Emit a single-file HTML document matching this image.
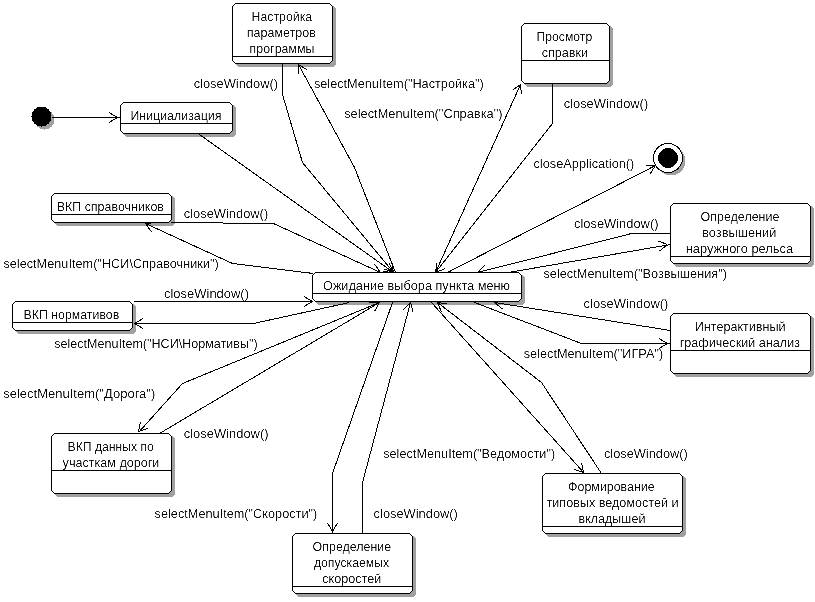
<!DOCTYPE html>
<html><head><meta charset="utf-8"><style>
html,body{margin:0;padding:0;background:#fff;width:815px;height:602px;overflow:hidden}
svg{display:block;will-change:transform}
text{filter:url(#thr);font-family:"Liberation Sans",sans-serif;font-size:12px;fill:#000}
.c{shape-rendering:crispEdges}
</style></head><body>
<svg width="815" height="602" viewBox="0 0 815 602">
<defs><filter id="thr" x="-5%" y="-25%" width="110%" height="150%" color-interpolation-filters="sRGB"><feComponentTransfer><feFuncA type="table" tableValues="0 0 0.8 1"/></feComponentTransfer></filter></defs>
<rect width="815" height="602" fill="#fff"/>
<circle cx="44.5" cy="119.5" r="10" fill="#a0a0a0" class="c"/>
<circle cx="671" cy="161" r="14.5" fill="#a0a0a0" class="c"/>
<path d="M238,6 H333 L336,9 V64 L333,67 H238 L235,64 V9 Z" fill="#a0a0a0" class="c"/>
<path d="M527,26 H610 L613,29 V84 L610,87 H527 L524,84 V29 Z" fill="#a0a0a0" class="c"/>
<path d="M126,105 H233 L236,108 V134 L233,137 H126 L123,134 V108 Z" fill="#a0a0a0" class="c"/>
<path d="M57,196 H172 L175,199 V223 L172,226 H57 L54,223 V199 Z" fill="#a0a0a0" class="c"/>
<path d="M676,206 H811 L814,209 V264 L811,267 H676 L673,264 V209 Z" fill="#a0a0a0" class="c"/>
<path d="M318,275 H522 L525,278 V302 L522,305 H318 L315,302 V278 Z" fill="#a0a0a0" class="c"/>
<path d="M18,304 H133 L136,307 V331 L133,334 H18 L15,331 V307 Z" fill="#a0a0a0" class="c"/>
<path d="M676,316 H811 L814,319 V374 L811,377 H676 L673,374 V319 Z" fill="#a0a0a0" class="c"/>
<path d="M57,436 H172 L175,439 V494 L172,497 H57 L54,494 V439 Z" fill="#a0a0a0" class="c"/>
<path d="M548,476 H683 L686,479 V534 L683,537 H548 L545,534 V479 Z" fill="#a0a0a0" class="c"/>
<path d="M298,536 H413 L416,539 V594 L413,597 H298 L295,594 V539 Z" fill="#a0a0a0" class="c"/>
<polyline points="51.5,117.5 120.5,117.5" fill="none" stroke="#000" class="c"/>
<line x1="108.8" y1="112.5" x2="117.5" y2="117.5" stroke="#000" class="c"/>
<line x1="108.8" y1="122.5" x2="117.5" y2="117.5" stroke="#000" class="c"/>
<polyline points="199.5,134.5 393.5,272.5" fill="none" stroke="#000" class="c"/>
<line x1="389.3" y1="263.4" x2="393.5" y2="272.5" stroke="#000" class="c"/>
<line x1="383.5" y1="271.6" x2="393.5" y2="272.5" stroke="#000" class="c"/>
<polyline points="282.5,63.5 282.5,94.5 302.5,162.5 393.5,272.5" fill="none" stroke="#000" class="c"/>
<line x1="391.8" y1="262.6" x2="393.5" y2="272.5" stroke="#000" class="c"/>
<line x1="384.1" y1="269.0" x2="393.5" y2="272.5" stroke="#000" class="c"/>
<polyline points="395.5,272.5 354.5,167.5 298.5,64.5" fill="none" stroke="#000" class="c"/>
<line x1="298.2" y1="74.5" x2="298.5" y2="64.5" stroke="#000" class="c"/>
<line x1="307.0" y1="69.7" x2="298.5" y2="64.5" stroke="#000" class="c"/>
<polyline points="435.5,272.5 520.5,84.5" fill="none" stroke="#000" class="c"/>
<line x1="512.4" y1="90.3" x2="520.5" y2="84.5" stroke="#000" class="c"/>
<line x1="521.5" y1="94.5" x2="520.5" y2="84.5" stroke="#000" class="c"/>
<polyline points="552.5,83.5 552.5,123.5 435.5,272.5" fill="none" stroke="#000" class="c"/>
<line x1="444.8" y1="268.8" x2="435.5" y2="272.5" stroke="#000" class="c"/>
<line x1="436.9" y1="262.6" x2="435.5" y2="272.5" stroke="#000" class="c"/>
<polyline points="447.5,272.5 655.5,165.5" fill="none" stroke="#000" class="c"/>
<line x1="645.5" y1="165.0" x2="655.5" y2="165.5" stroke="#000" class="c"/>
<line x1="650.1" y1="173.9" x2="655.5" y2="165.5" stroke="#000" class="c"/>
<polyline points="670.5,233.5 631.5,233.5 477.5,272.5" fill="none" stroke="#000" class="c"/>
<line x1="487.1" y1="275.2" x2="477.5" y2="272.5" stroke="#000" class="c"/>
<line x1="484.7" y1="265.5" x2="477.5" y2="272.5" stroke="#000" class="c"/>
<polyline points="508.5,272.5 670.5,244.5" fill="none" stroke="#000" class="c"/>
<line x1="658.1" y1="241.0" x2="667.5" y2="244.5" stroke="#000" class="c"/>
<line x1="659.8" y1="250.9" x2="667.5" y2="244.5" stroke="#000" class="c"/>
<polyline points="171.5,222.5 273.5,223.5 380.5,272.5" fill="none" stroke="#000" class="c"/>
<line x1="374.7" y1="264.3" x2="380.5" y2="272.5" stroke="#000" class="c"/>
<line x1="370.5" y1="273.4" x2="380.5" y2="272.5" stroke="#000" class="c"/>
<polyline points="313.5,273.5 232.5,263.5 145.5,223.5" fill="none" stroke="#000" class="c"/>
<line x1="151.3" y1="231.7" x2="145.5" y2="223.5" stroke="#000" class="c"/>
<line x1="155.5" y1="222.6" x2="145.5" y2="223.5" stroke="#000" class="c"/>
<polyline points="133.5,301.5 312.5,301.5" fill="none" stroke="#000" class="c"/>
<line x1="303.8" y1="296.5" x2="312.5" y2="301.5" stroke="#000" class="c"/>
<line x1="303.8" y1="306.5" x2="312.5" y2="301.5" stroke="#000" class="c"/>
<polyline points="349.5,302.5 253.5,323.5 133.5,323.5" fill="none" stroke="#000" class="c"/>
<line x1="143.2" y1="328.5" x2="134.5" y2="323.5" stroke="#000" class="c"/>
<line x1="143.2" y1="318.5" x2="134.5" y2="323.5" stroke="#000" class="c"/>
<polyline points="379.5,302.5 182.5,383.5 138.5,432.5" fill="none" stroke="#000" class="c"/>
<line x1="148.0" y1="428.4" x2="138.5" y2="431.5" stroke="#000" class="c"/>
<line x1="140.6" y1="421.7" x2="138.5" y2="431.5" stroke="#000" class="c"/>
<polyline points="159.5,433.5 379.5,302.5" fill="none" stroke="#000" class="c"/>
<line x1="369.5" y1="302.6" x2="379.5" y2="302.5" stroke="#000" class="c"/>
<line x1="374.6" y1="311.2" x2="379.5" y2="302.5" stroke="#000" class="c"/>
<polyline points="392.5,302.5 332.5,473.5 332.5,533.5" fill="none" stroke="#000" class="c"/>
<line x1="337.5" y1="522.8" x2="332.5" y2="531.5" stroke="#000" class="c"/>
<line x1="327.5" y1="522.8" x2="332.5" y2="531.5" stroke="#000" class="c"/>
<polyline points="362.5,533.5 362.5,482.5 410.5,302.5" fill="none" stroke="#000" class="c"/>
<line x1="403.4" y1="309.6" x2="410.5" y2="302.5" stroke="#000" class="c"/>
<line x1="413.1" y1="312.2" x2="410.5" y2="302.5" stroke="#000" class="c"/>
<polyline points="431.5,302.5 584.5,473.5" fill="none" stroke="#000" class="c"/>
<line x1="581.5" y1="462.7" x2="583.5" y2="472.5" stroke="#000" class="c"/>
<line x1="574.0" y1="469.4" x2="583.5" y2="472.5" stroke="#000" class="c"/>
<polyline points="601.5,473.5 541.5,382.5 437.5,302.5" fill="none" stroke="#000" class="c"/>
<line x1="441.3" y1="311.7" x2="437.5" y2="302.5" stroke="#000" class="c"/>
<line x1="447.4" y1="303.8" x2="437.5" y2="302.5" stroke="#000" class="c"/>
<polyline points="474.5,302.5 581.5,343.5 670.5,343.5" fill="none" stroke="#000" class="c"/>
<line x1="658.8" y1="338.5" x2="667.5" y2="343.5" stroke="#000" class="c"/>
<line x1="658.8" y1="348.5" x2="667.5" y2="343.5" stroke="#000" class="c"/>
<polyline points="670.5,330.5 494.5,302.5" fill="none" stroke="#000" class="c"/>
<line x1="502.3" y1="308.8" x2="494.5" y2="302.5" stroke="#000" class="c"/>
<line x1="503.8" y1="298.9" x2="494.5" y2="302.5" stroke="#000" class="c"/>
<circle cx="41.5" cy="116.5" r="10" fill="#000" class="c"/>
<circle cx="668" cy="158" r="14.5" fill="#fff" stroke="#000" class="c"/>
<circle cx="668" cy="158" r="10" fill="#000" class="c"/>
<path d="M235.5,3.5 H329.5 L332.5,6.5 V60.5 L329.5,63.5 H235.5 L232.5,60.5 V6.5 Z" fill="#fff" stroke="#000" class="c"/>
<line x1="232" y1="56.5" x2="333" y2="56.5" stroke="#000" class="c"/>
<text x="251.5" y="21" textLength="60.69999999999999" lengthAdjust="spacingAndGlyphs">Настройка</text>
<text x="246.8" y="37" textLength="69.09999999999997" lengthAdjust="spacingAndGlyphs">параметров</text>
<text x="249.6" y="53" textLength="64.79999999999998" lengthAdjust="spacingAndGlyphs">программы</text>
<path d="M524.5,23.5 H606.5 L609.5,26.5 V80.5 L606.5,83.5 H524.5 L521.5,80.5 V26.5 Z" fill="#fff" stroke="#000" class="c"/>
<line x1="521" y1="60.5" x2="610" y2="60.5" stroke="#000" class="c"/>
<text x="536.5" y="41" textLength="55.700000000000045" lengthAdjust="spacingAndGlyphs">Просмотр</text>
<text x="541.7" y="57" textLength="46.299999999999955" lengthAdjust="spacingAndGlyphs">справки</text>
<path d="M123.5,102.5 H229.5 L232.5,105.5 V130.5 L229.5,133.5 H123.5 L120.5,130.5 V105.5 Z" fill="#fff" stroke="#000" class="c"/>
<line x1="120" y1="123.5" x2="233" y2="123.5" stroke="#000" class="c"/>
<text x="130.4" y="120" textLength="91.1" lengthAdjust="spacingAndGlyphs">Инициализация</text>
<path d="M54.5,193.5 H168.5 L171.5,196.5 V219.5 L168.5,222.5 H54.5 L51.5,219.5 V196.5 Z" fill="#fff" stroke="#000" class="c"/>
<line x1="51" y1="214.5" x2="172" y2="214.5" stroke="#000" class="c"/>
<text x="56.7" y="211" textLength="107.3" lengthAdjust="spacingAndGlyphs">ВКП справочников</text>
<path d="M673.5,203.5 H807.5 L810.5,206.5 V260.5 L807.5,263.5 H673.5 L670.5,260.5 V206.5 Z" fill="#fff" stroke="#000" class="c"/>
<line x1="670" y1="256.5" x2="811" y2="256.5" stroke="#000" class="c"/>
<text x="700.5" y="221" textLength="78.89999999999998" lengthAdjust="spacingAndGlyphs">Определение</text>
<text x="702.2" y="237" textLength="74.19999999999993" lengthAdjust="spacingAndGlyphs">возвышений</text>
<text x="685.7" y="253" textLength="107.39999999999998" lengthAdjust="spacingAndGlyphs">наружного рельса</text>
<path d="M315.5,272.5 H518.5 L521.5,275.5 V298.5 L518.5,301.5 H315.5 L312.5,298.5 V275.5 Z" fill="#fff" stroke="#000" class="c"/>
<line x1="312" y1="293.5" x2="522" y2="293.5" stroke="#000" class="c"/>
<text x="323" y="290" textLength="187" lengthAdjust="spacingAndGlyphs">Ожидание выбора пункта меню</text>
<path d="M15.5,301.5 H129.5 L132.5,304.5 V327.5 L129.5,330.5 H15.5 L12.5,327.5 V304.5 Z" fill="#fff" stroke="#000" class="c"/>
<line x1="12" y1="322.5" x2="133" y2="322.5" stroke="#000" class="c"/>
<text x="23.6" y="319" textLength="95.6" lengthAdjust="spacingAndGlyphs">ВКП нормативов</text>
<path d="M673.5,313.5 H807.5 L810.5,316.5 V370.5 L807.5,373.5 H673.5 L670.5,370.5 V316.5 Z" fill="#fff" stroke="#000" class="c"/>
<line x1="670" y1="350.5" x2="811" y2="350.5" stroke="#000" class="c"/>
<text x="694.8" y="331" textLength="90.80000000000007" lengthAdjust="spacingAndGlyphs">Интерактивный</text>
<text x="679.7" y="347" textLength="120.29999999999995" lengthAdjust="spacingAndGlyphs">графический анализ</text>
<path d="M54.5,433.5 H168.5 L171.5,436.5 V490.5 L168.5,493.5 H54.5 L51.5,490.5 V436.5 Z" fill="#fff" stroke="#000" class="c"/>
<line x1="51" y1="470.5" x2="172" y2="470.5" stroke="#000" class="c"/>
<text x="67.5" y="451" textLength="86.4" lengthAdjust="spacingAndGlyphs">ВКП данных по</text>
<text x="62.6" y="467" textLength="96.80000000000001" lengthAdjust="spacingAndGlyphs">участкам дороги</text>
<path d="M545.5,473.5 H679.5 L682.5,476.5 V530.5 L679.5,533.5 H545.5 L542.5,530.5 V476.5 Z" fill="#fff" stroke="#000" class="c"/>
<line x1="542" y1="526.5" x2="683" y2="526.5" stroke="#000" class="c"/>
<text x="568.1" y="491" textLength="86.60000000000002" lengthAdjust="spacingAndGlyphs">Формирование</text>
<text x="546.5" y="507" textLength="132.10000000000002" lengthAdjust="spacingAndGlyphs">типовых ведомостей и</text>
<text x="578.5" y="523" textLength="66.89999999999998" lengthAdjust="spacingAndGlyphs">вкладышей</text>
<path d="M295.5,533.5 H409.5 L412.5,536.5 V590.5 L409.5,593.5 H295.5 L292.5,590.5 V536.5 Z" fill="#fff" stroke="#000" class="c"/>
<line x1="292" y1="586.5" x2="413" y2="586.5" stroke="#000" class="c"/>
<text x="312.6" y="551" textLength="78.59999999999997" lengthAdjust="spacingAndGlyphs">Определение</text>
<text x="313.9" y="567" textLength="75.30000000000001" lengthAdjust="spacingAndGlyphs">допускаемых</text>
<text x="322.2" y="583" textLength="59.10000000000002" lengthAdjust="spacingAndGlyphs">скоростей</text>
<text x="193.7" y="88" textLength="84.30000000000001" lengthAdjust="spacingAndGlyphs">closeWindow()</text>
<text x="313.9" y="88" textLength="169.90000000000003" lengthAdjust="spacingAndGlyphs">selectMenuItem(&quot;Настройка&quot;)</text>
<text x="344.2" y="118" textLength="158.3" lengthAdjust="spacingAndGlyphs">selectMenuItem(&quot;Справка&quot;)</text>
<text x="563.7" y="108" textLength="84.5" lengthAdjust="spacingAndGlyphs">closeWindow()</text>
<text x="533.4" y="168" textLength="101.0" lengthAdjust="spacingAndGlyphs">closeApplication()</text>
<text x="574" y="228" textLength="84.5" lengthAdjust="spacingAndGlyphs">closeWindow()</text>
<text x="543.4" y="278" textLength="183.70000000000005" lengthAdjust="spacingAndGlyphs">selectMenuItem(&quot;Возвышения&quot;)</text>
<text x="183.8" y="218" textLength="84.39999999999998" lengthAdjust="spacingAndGlyphs">closeWindow()</text>
<text x="3.4" y="268" textLength="215.29999999999998" lengthAdjust="spacingAndGlyphs">selectMenuItem(&quot;НСИ\Справочники&quot;)</text>
<text x="164" y="298" textLength="85" lengthAdjust="spacingAndGlyphs">closeWindow()</text>
<text x="54.2" y="348" textLength="203.5" lengthAdjust="spacingAndGlyphs">selectMenuItem(&quot;НСИ\Нормативы&quot;)</text>
<text x="3.2" y="398" textLength="152.10000000000002" lengthAdjust="spacingAndGlyphs">selectMenuItem(&quot;Дорога&quot;)</text>
<text x="183.8" y="438" textLength="84.69999999999999" lengthAdjust="spacingAndGlyphs">closeWindow()</text>
<text x="154.6" y="518" textLength="162.70000000000002" lengthAdjust="spacingAndGlyphs">selectMenuItem(&quot;Скорости&quot;)</text>
<text x="373.6" y="518" textLength="84.29999999999995" lengthAdjust="spacingAndGlyphs">closeWindow()</text>
<text x="383.2" y="458" textLength="172.00000000000006" lengthAdjust="spacingAndGlyphs">selectMenuItem(&quot;Ведомости&quot;)</text>
<text x="603.9" y="458" textLength="83.89999999999998" lengthAdjust="spacingAndGlyphs">closeWindow()</text>
<text x="523.7" y="358" textLength="139.5" lengthAdjust="spacingAndGlyphs">selectMenuItem(&quot;ИГРА&quot;)</text>
<text x="583.6" y="308" textLength="84.79999999999995" lengthAdjust="spacingAndGlyphs">closeWindow()</text>
</svg></body></html>
